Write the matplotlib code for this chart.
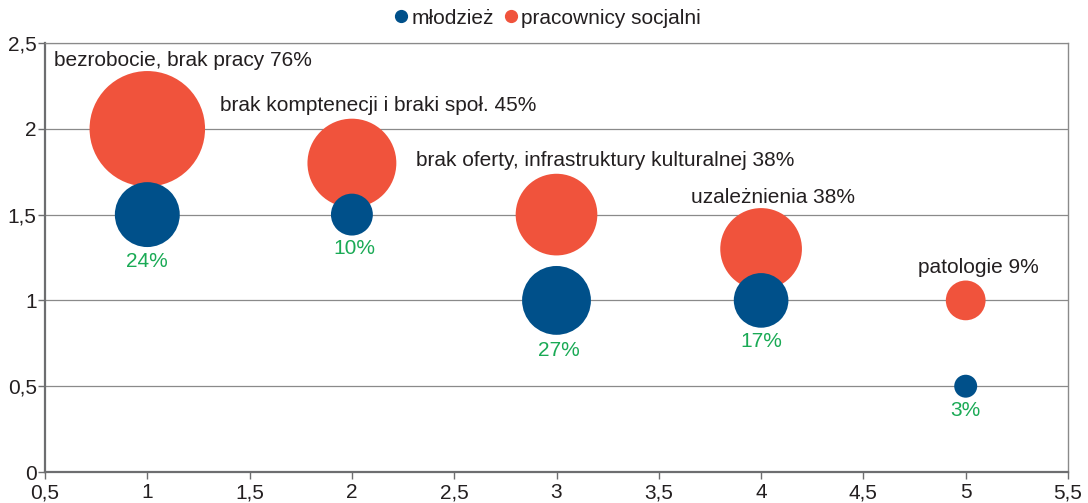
import matplotlib
matplotlib.use("Agg")
import matplotlib.pyplot as plt
from matplotlib.ticker import FuncFormatter, MultipleLocator
from matplotlib.lines import Line2D

plt.rcParams['font.family'] = ['Liberation Sans', 'DejaVu Sans']

# Data
x_vals = [1, 2, 3, 4, 5]
mlodziez_y = [1.5, 1.5, 1.0, 1.0, 0.5]
mlodziez_pct = [24, 10, 27, 17, 3]
socjalni_y = [2.0, 1.8, 1.5, 1.3, 1.0]
socjalni_pct = [76, 45, 38, 38, 9]
socjalni_labels = ["bezrobocie, brak pracy 76%",
                   "brak komptenecji i braki społ. 45%",
                   "brak oferty, infrastruktury kulturalnej 38%",
                   "uzależnienia 38%",
                   "patologie 9%"]
# label positions (data coords)
socjalni_label_pos = [(1.174, 2.40), (2.128, 2.133), (3.24, 1.818), (4.06, 1.60), (5.06, 1.19)]
mlodziez_label_pos = [(1.0, 1.224), (2.01, 1.30), (3.01, 0.71), (4.0, 0.758), (5.0, 0.36)]

BLUE = '#00508a'
RED = '#f0533c'
GREEN = '#1aaa55'
TXT = '#231f20'
SCALE = 91
FS = 15

fig = plt.figure(figsize=(10.88, 5.03), dpi=100)
ax = fig.add_axes([45/1088, 31/503, 1023/1088, 429/503])

ax.scatter(x_vals, socjalni_y, s=[SCALE*v for v in socjalni_pct], color=RED,
           linewidths=0, zorder=3, label='pracownicy socjalni')
ax.scatter(x_vals, mlodziez_y, s=[SCALE*v for v in mlodziez_pct], color=BLUE,
           linewidths=0, zorder=4, label='młodzież')

for (tx, ty), lab in zip(socjalni_label_pos, socjalni_labels):
    ax.text(tx, ty, lab, ha='center', va='center', fontsize=FS, color=TXT, zorder=5)
for (tx, ty), v in zip(mlodziez_label_pos, mlodziez_pct):
    ax.text(tx, ty, f"{v}%", ha='center', va='center', fontsize=FS, color=GREEN, zorder=5)

ax.set_xlim(0.5, 5.5)
ax.set_ylim(0, 2.5)
ax.xaxis.set_major_locator(MultipleLocator(0.5))
ax.yaxis.set_major_locator(MultipleLocator(0.5))

def fmt(v, pos):
    s = f"{v:g}"
    return s.replace('.', ',')

ax.xaxis.set_major_formatter(FuncFormatter(fmt))
ax.yaxis.set_major_formatter(FuncFormatter(fmt))

ax.grid(axis='y', color='#8a8a8a', linewidth=0.9, zorder=0)
ax.set_axisbelow(True)
for side in ['left', 'bottom']:
    ax.spines[side].set_color('#6d6e70')
    ax.spines[side].set_linewidth(1.6)
ax.spines['right'].set_color('#8a8a8a')
ax.spines['right'].set_linewidth(1.0)
ax.spines['top'].set_color('#8a8a8a')
ax.spines['top'].set_linewidth(0.9)

ax.tick_params(axis='both', colors='#6d6e70', labelcolor=TXT, labelsize=FS,
               length=5, width=1, direction='out')
ax.tick_params(axis='x', pad=3)
ax.tick_params(axis='y', pad=1)

h = [Line2D([], [], marker='o', linestyle='', color=BLUE, markersize=8.5),
     Line2D([], [], marker='o', linestyle='', color=RED, markersize=8.5)]
fig.legend(h, ['młodzież', 'pracownicy socjalni'], loc='center', bbox_to_anchor=(546/1088, 1 - 18/503),
           ncol=2, frameon=False, fontsize=FS, handletextpad=0.0, columnspacing=0.3,
           handlelength=1.0, labelcolor=TXT)

fig.savefig('out.png', dpi=100)
